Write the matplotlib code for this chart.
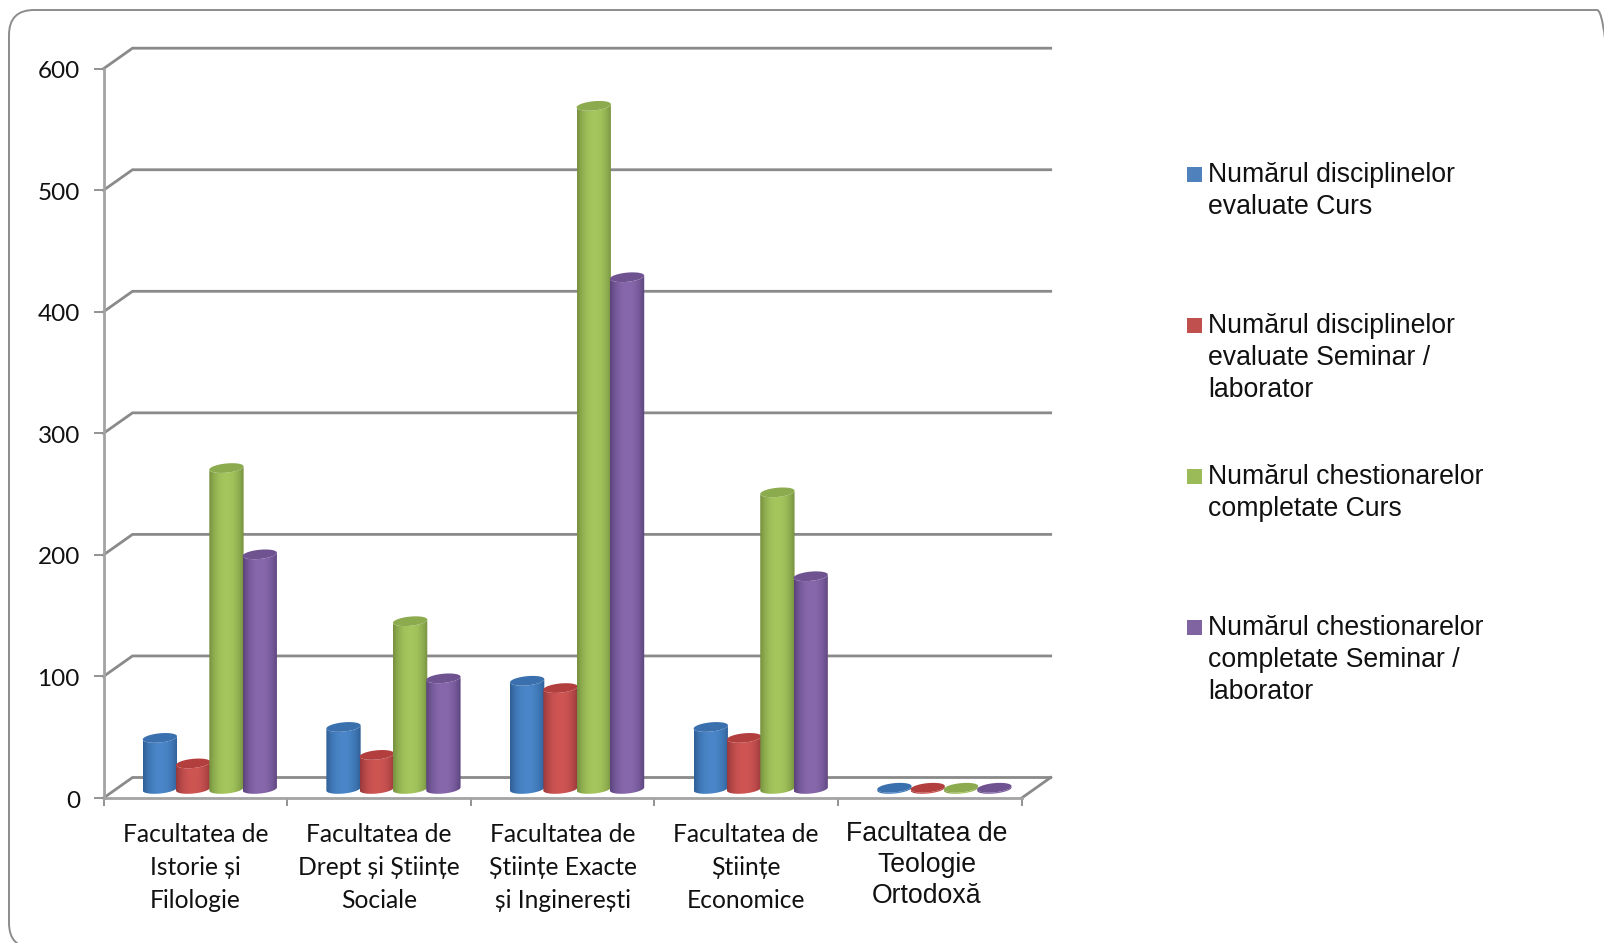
import numpy as np
import matplotlib
matplotlib.use("Agg")
import matplotlib.pyplot as plt
from matplotlib.patches import FancyBboxPatch, PathPatch, Rectangle
from matplotlib.path import Path
from matplotlib.transforms import Affine2D, IdentityTransform

categories = ["Facultatea de\nIstorie și\nFilologie",
              "Facultatea de\nDrept și Științe\nSociale",
              "Facultatea de\nȘtiințe Exacte\nși Inginerești",
              "Facultatea de\nȘtiințe\nEconomice",
              "Facultatea de\nTeologie\nOrtodoxă"]
curs_disc = [42, 51, 89, 51, 1]
sem_disc = [21, 28, 83, 42, 1]
curs_chest = [264, 138, 562, 244, 1]
sem_chest = [193, 91, 421, 175, 1]
series_labels = ["Numărul disciplinelor\nevaluate Curs",
                 "Numărul disciplinelor\nevaluate Seminar /\nlaborator",
                 "Numărul chestionarelor\ncompletate Curs",
                 "Numărul chestionarelor\ncompletate Seminar /\nlaborator"]
series = [curs_disc, sem_disc, curs_chest, sem_chest]
y_ticks = [0, 100, 200, 300, 400, 500, 600]

# (edge, centre, top, legend)
palette = [("#2f5f96", "#4a86c9", "#3a70ae", "#4f81bd"),
           ("#98383a", "#cf5553", "#b23f3e", "#c0504d"),
           ("#76913f", "#a4c65d", "#8cab4e", "#9bbb59"),
           ("#5b437c", "#8768ac", "#6e5390", "#8064a2")]

W, H = 1604, 943
fig = plt.figure(figsize=(W / 100, H / 100), dpi=100, facecolor="white")
L, R, B, T = 103.5, 1021.7, 798.0, 68.7
ax = fig.add_axes([L / W, 1 - B / H, (R - L) / W, (B - T) / H])
ax.set_facecolor("none")

px_x = 5 / (R - L)
px_y = 600 / (B - T)
depth_x = 29 * px_x
depth_y = 20.5 * px_y
bar_w = 34.3 * px_x
bar_pitch = 33.3 * px_x
semi_h = 4.6 * px_y
skew = 1.6 * px_y

# rounded frame, running off the right and bottom of the picture
frame = FancyBboxPatch((9, -5), 1613, 938,
                       boxstyle="round,pad=0,rounding_size=25",
                       fc="none", ec="#8c8c8c", lw=1.4,
                       transform=IdentityTransform(), clip_on=False)
fig.add_artist(frame)

# walls
grid_c = "#8a8a8a"
for v in y_ticks:
    ax.plot([0, depth_x, 5 + depth_x], [v, v + depth_y, v + depth_y], color=grid_c,
            lw=2.0, clip_on=False, zorder=1, solid_joinstyle="miter")
ax.plot([5, 5 + depth_x], [0, depth_y], color=grid_c, lw=2.0, clip_on=False, zorder=1)


def rim(cx, cy, t):
    return cx + bar_w / 2 * np.cos(t), cy + semi_h * np.sin(t) + skew * np.cos(t)


grad = np.abs(np.linspace(-1, 1, 64)) ** 2.2
for s, vals in enumerate(series):
    edge, mid, top, _ = palette[s]
    e, m = np.array(matplotlib.colors.to_rgb(edge)), np.array(matplotlib.colors.to_rgb(mid))
    img = (m[None] * (1 - grad[:, None]) + e[None] * grad[:, None])[None, :, :]
    for i, v in enumerate(vals):
        cx = i + 0.5 + depth_x / 2 + (s - 1.5) * bar_pitch
        y0 = depth_y / 2 - 1.2 * px_y
        y1 = y0 + v
        tb = np.linspace(np.pi, 2 * np.pi, 40)
        bx, by = rim(cx, y0, tb)
        tx, ty = rim(cx, y1, tb[::-1])
        body = Path(np.column_stack([np.r_[bx, tx], np.r_[by, ty]]))
        clip = PathPatch(body, transform=ax.transData, fc="none", ec="none")
        ax.add_patch(clip)
        im = ax.imshow(img, extent=[cx - bar_w / 2, cx + bar_w / 2, y0 - 10, y1 + 10],
                       aspect="auto", interpolation="bilinear", zorder=3 + s * 0.1)
        im.set_clip_path(clip)
        ta = np.linspace(0, 2 * np.pi, 80)
        ex, ey = rim(cx, y1, ta)
        ax.fill(ex, ey, color=top, lw=0, zorder=3.05 + s * 0.1)

ax.set_xlim(0, 5)
ax.set_ylim(0, 600)

# axes
for k in ("top", "right"):
    ax.spines[k].set_visible(False)
for k in ("left", "bottom"):
    ax.spines[k].set_color("#a3a3a3")
    ax.spines[k].set_linewidth(2.0)
    ax.spines[k].set_zorder(2)
ax.set_xticks(range(6))
ax.set_xticklabels([])
ax.tick_params(axis="x", which="major", length=6, width=1.3, color="#8a8a8a", direction="out")
ax.set_xticks(np.arange(5) + 0.5, minor=True)
ax.set_xticklabels(categories, minor=True, fontsize=17.7, family="Lato", linespacing=1.52,
                   color="#111111", ha="center", va="top")
ax.tick_params(axis="x", which="minor", length=0, pad=18)
last = ax.get_xticklabels(minor=True)[-1]
last.set_family("Liberation Sans")
last.set_fontsize(19.2)
last.set_linespacing(1.25)
last.set_transform(last.get_transform() + Affine2D().translate(-3, 2))
ax.set_yticks(y_ticks)
ax.set_yticklabels([str(v) for v in y_ticks], fontsize=17.5, family="Lato", color="#111111")
ax.tick_params(axis="y", length=7, width=1.3, color="#8a8a8a", direction="out", pad=10)
for lbl in ax.get_yticklabels():
    lbl.set_transform(lbl.get_transform() + Affine2D().translate(0, -1))

# legend
leg_tops = [167, 318, 469, 620]
for (edge, mid, top, col), label, y in zip(palette, series_labels, leg_tops):
    fig.add_artist(Rectangle((1187 / W, 1 - (y + 15) / H), 15 / W, 15 / H, fc=col, ec="none",
                             transform=fig.transFigure))
    fig.text(1208 / W, 1 - (y - 5) / H, label, family="Liberation Sans", fontsize=19.2,
             va="top", ha="left", linespacing=1.29, color="#111111")

fig.savefig("out.png", dpi=100, facecolor="white")
